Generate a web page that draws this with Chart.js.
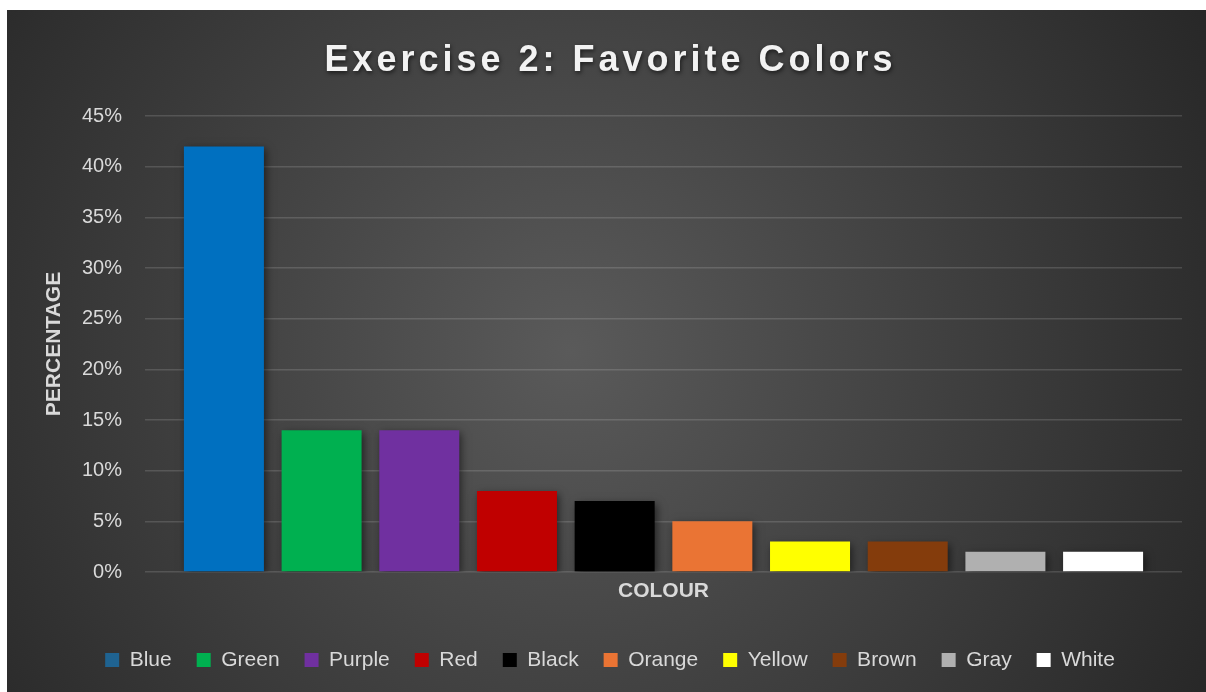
<!DOCTYPE html>
<html>
<head>
<meta charset="utf-8">
<script src="https://cdn.jsdelivr.net/npm/chart.js@4.4.0/dist/chart.umd.min.js"></script>
<style>
    body { margin: 0; background: #ffffff; }
    #wrap { position: absolute; left: 7px; top: 10px; width: 1199px; height: 682px; }
</style>
</head>
<body>
<div id="wrap"><canvas id="myChart"></canvas></div>
<script>
let chart_title = 'Exercise 2: Favorite Colors';
let colours = ['Blue', 'Green', 'Purple', 'Red', 'Black', 'Orange', 'Yellow', 'Brown', 'Gray', 'White'];
let percentages = [42, 14, 14, 8, 7, 5, 3, 3, 2, 2];
let bar_colors = ['#0070c0', '#00b050', '#7030a0', '#c00000', '#000000', '#ea7434', '#ffff00', '#843c0c', '#b0b0b0', '#ffffff'];
let legend_colors = ['#1f6391', '#00b050', '#7030a0', '#c00000', '#000000', '#ea7434', '#ffff00', '#843c0c', '#b0b0b0', '#ffffff'];
let y_ticks = [0, 5, 10, 15, 20, 25, 30, 35, 40, 45];
let font_family = '"Liberation Sans", Arial, sans-serif';

// background gradient + centred title with letter spacing
const bgPlugin = {
    id: 'bgPlugin',
    beforeDraw(chart) {
        let ctx = chart.ctx;
        let cx = chart.width * 0.47, cy = chart.height * 0.5;
        let g = ctx.createRadialGradient(cx, cy, 0, cx, cy, chart.width * 0.62);
        g.addColorStop(0, '#5a5a5a');
        g.addColorStop(1, '#262626');
        ctx.save();
        ctx.fillStyle = g;
        ctx.fillRect(0, 0, chart.width, chart.height);
        ctx.restore();
    },
    afterDraw(chart) {
        let ctx = chart.ctx;
        ctx.save();
        ctx.font = 'bold 36px ' + font_family;
        ctx.letterSpacing = '4px';
        ctx.textAlign = 'center';
        ctx.textBaseline = 'alphabetic';
        ctx.shadowColor = 'rgba(0,0,0,0.6)';
        ctx.shadowBlur = 4;
        ctx.shadowOffsetX = 1;
        ctx.shadowOffsetY = 2;
        ctx.fillStyle = '#f2f2f2';
        ctx.fillText(chart_title, chart.width / 2 + 4, 61);
        ctx.restore();
    }
};

// soft shadow under the bars
const shadowPlugin = {
    id: 'shadowPlugin',
    beforeDatasetsDraw(chart) {
        let ctx = chart.ctx;
        ctx.save();
        ctx.shadowColor = 'rgba(0,0,0,0.55)';
        ctx.shadowBlur = 8;
        ctx.shadowOffsetX = 2;
        ctx.shadowOffsetY = 3;
    },
    afterDatasetsDraw(chart) {
        chart.ctx.restore();
    }
};

let datasets = [];
for (let i = 0; i < colours.length; i++) {
    datasets.push({
        label: colours[i],
        data: [percentages[i]],
        backgroundColor: bar_colors[i],
        borderWidth: 0,
        categoryPercentage: 0.942,
        barPercentage: 0.819
    });
}

var ctx = document.getElementById('myChart');
var chart = new Chart(ctx, {
    type: 'bar',
    data: {
        labels: [''],
        datasets: datasets
    },
    options: {
        responsive: true,
        maintainAspectRatio: false,
        animation: false,
        layout: { padding: { left: 31, right: 24, top: 106, bottom: 11.5 } },
        scales: {
            x: {
                grid: { display: false },
                border: { display: false },
                ticks: { display: false },
                title: {
                    display: true,
                    text: 'COLOUR',
                    color: '#d9d9d9',
                    font: { family: font_family, size: 21, weight: 'bold' },
                    padding: { top: 0, bottom: 21 }
                },
                afterFit: (scale) => { scale.height = 52.5; }
            },
            y: {
                min: 0,
                max: 45,
                afterBuildTicks: (scale) => { scale.ticks = y_ticks.map(v => ({ value: v })); },
                grid: { color: 'rgba(255,255,255,0.14)', lineWidth: 1.5, drawTicks: false },
                border: { display: false },
                ticks: {
                    color: '#d9d9d9',
                    padding: 23,
                    font: { family: font_family, size: 20 },
                    callback: (v) => v + '%'
                },
                title: {
                    display: true,
                    text: 'PERCENTAGE',
                    color: '#d9d9d9',
                    font: { family: font_family, size: 21, weight: 'bold' },
                    padding: { top: 4, bottom: 0 }
                },
                afterFit: (scale) => { scale.width = 107; }
            }
        },
        plugins: {
            title: { display: false },
            tooltip: { enabled: false },
            legend: {
                position: 'bottom',
                labels: {
                    color: '#d9d9d9',
                    boxWidth: 14,
                    boxHeight: 14,
                    padding: 25,
                    font: { family: font_family, size: 21 },
                    generateLabels: (c) => {
                        let items = Chart.defaults.plugins.legend.labels.generateLabels(c);
                        items.forEach((it, i) => {
                            it.fillStyle = legend_colors[i];
                            it.strokeStyle = legend_colors[i];
                            it.lineWidth = 0;
                        });
                        return items;
                    }
                }
            }
        }
    },
    plugins: [bgPlugin, shadowPlugin]
});
</script>
</body>
</html>
